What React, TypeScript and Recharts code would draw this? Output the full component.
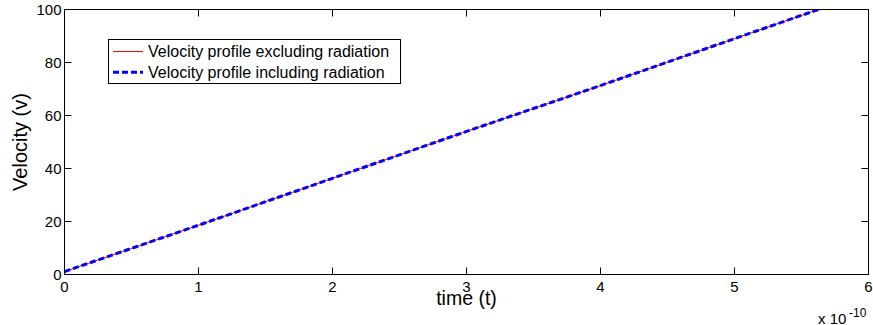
import React from 'react';
import { LineChart, Line, XAxis, YAxis, Legend } from 'recharts';

// time in units of 1e-10 s
const timeValues = [0, 1, 2, 3, 4, 5, 5.7];
const velocityExcluding = [1.1, 18.6, 36.3, 54.0, 71.3, 89.0, 101.3];
const velocityIncluding = [1.1, 18.6, 36.3, 54.0, 71.3, 89.0, 101.3];
const xTicks = [0, 1, 2, 3, 4, 5, 6];
const yTicks = [0, 20, 40, 60, 80, 100];
const seriesNames = ['Velocity profile excluding radiation', 'Velocity profile including radiation'];

const data = timeValues.map((t, i) => ({ t, vEx: velocityExcluding[i], vIn: velocityIncluding[i] }));

const FONT = '"Liberation Sans", Arial, Helvetica, sans-serif';
const TL = 7;

const BottomTick = (props: any) => {
  const { x, y, payload } = props;
  return (
    <g>
      <line x1={x} y1={y} x2={x} y2={y - TL} stroke="#000" strokeWidth={1} />
      <text x={x} y={y + 17.5} textAnchor="middle" fontFamily={FONT} fontSize={15} fill="#000">
        {payload.value}
      </text>
    </g>
  );
};
const TopTick = (props: any) => {
  const { x, y } = props;
  return <line x1={x} y1={y} x2={x} y2={y + TL} stroke="#000" strokeWidth={1} />;
};
const LeftTick = (props: any) => {
  const { x, y, payload } = props;
  return (
    <g>
      <line x1={x} y1={y} x2={x + TL} y2={y} stroke="#000" strokeWidth={1} />
      <text x={x - 3} y={y + 5.5} textAnchor="end" fontFamily={FONT} fontSize={15} fill="#000">
        {payload.value}
      </text>
    </g>
  );
};
const RightTick = (props: any) => {
  const { x, y } = props;
  return <line x1={x} y1={y} x2={x - TL} y2={y} stroke="#000" strokeWidth={1} />;
};

const LegendBox = () => (
  <svg width={293} height={45} style={{ display: 'block' }}>
    <rect x={0.5} y={0.5} width={292} height={44} fill="#fff" stroke="#000" strokeWidth={1} />
    <line x1={5} y1={12.5} x2={35} y2={12.5} stroke="#ff0000" strokeWidth={1} />
    <text x={40} y={17.8} fontFamily={FONT} fontSize={16} fill="#000">{seriesNames[0]}</text>
    <line x1={5} y1={33.3} x2={35} y2={33.3} stroke="#0000ff" strokeWidth={3} strokeDasharray="6 3" />
    <text x={40} y={38.8} fontFamily={FONT} fontSize={16} fill="#000">{seriesNames[1]}</text>
  </svg>
);

export default function App() {
  return (
    <div style={{ position: 'absolute', left: 0, top: 0, width: 873, height: 325, background: '#fff' }}>
      <LineChart
        width={873}
        height={325}
        data={data}
        margin={{ top: 8.5, right: 3.5, bottom: 20.5, left: 4.5 }}
        style={{ fontFamily: FONT }}
      >
        <XAxis
          xAxisId="b"
          dataKey="t"
          type="number"
          domain={[0, 6]}
          ticks={xTicks}
          allowDataOverflow
          height={30}
          stroke="#000"
          tickSize={0}
          tickMargin={0}
          tickLine={false}
          axisLine={{ stroke: '#000', strokeWidth: 1 }}
          tick={BottomTick}
          interval={0}
          label={{ value: 'time (t)', position: 'center', dy: 8.5, fontSize: 19.5, fill: '#000', fontFamily: FONT }}
        />
        <XAxis
          xAxisId="top"
          orientation="top"
          dataKey="t"
          type="number"
          domain={[0, 6]}
          ticks={xTicks}
          allowDataOverflow
          height={1}
          stroke="#000"
          tickSize={0}
          tickMargin={0}
          tickLine={false}
          axisLine={{ stroke: '#000', strokeWidth: 1 }}
          tick={TopTick}
          interval={0}
        />
        <YAxis
          yAxisId="l"
          type="number"
          domain={[0, 100]}
          ticks={yTicks}
          allowDataOverflow
          width={60}
          stroke="#000"
          tickSize={0}
          tickMargin={0}
          tickLine={false}
          axisLine={{ stroke: '#000', strokeWidth: 1 }}
          tick={LeftTick}
          interval={0}
          label={{ value: 'Velocity (v)', position: 'center', angle: -90, dx: -14.5, fontSize: 20, fill: '#000', fontFamily: FONT }}
        />
        <YAxis
          yAxisId="r"
          orientation="right"
          type="number"
          domain={[0, 100]}
          ticks={yTicks}
          allowDataOverflow
          width={1}
          stroke="#000"
          tickSize={0}
          tickMargin={0}
          tickLine={false}
          axisLine={{ stroke: '#000', strokeWidth: 1 }}
          tick={RightTick}
          interval={0}
        />
        <Line
          xAxisId="b"
          yAxisId="l"
          type="linear"
          dataKey="vEx"
          name={seriesNames[0]}
          stroke="#ff0000"
          strokeWidth={1}
          dot={false}
          activeDot={false}
          isAnimationActive={false}
        />
        <Line
          xAxisId="b"
          yAxisId="l"
          type="linear"
          dataKey="vIn"
          name={seriesNames[1]}
          stroke="#0000ff"
          strokeWidth={3}
          strokeDasharray="6 3"
          dot={false}
          activeDot={false}
          isAnimationActive={false}
        />
        <Line
          xAxisId="top"
          yAxisId="r"
          type="linear"
          dataKey="vEx"
          stroke="none"
          strokeWidth={0}
          dot={false}
          activeDot={false}
          legendType="none"
          isAnimationActive={false}
        />
        <Legend
          layout="vertical"
          align="center"
          verticalAlign="middle"
          content={<LegendBox />}
          wrapperStyle={{ left: 108, top: 39, width: 293, height: 45 }}
        />
        <text x={818} y={323.5} fontFamily={FONT} fontSize={15} fill="#000">x 10</text>
        <text x={849} y={316.5} fontFamily={FONT} fontSize={12} fill="#000">-10</text>
      </LineChart>
    </div>
  );
}
